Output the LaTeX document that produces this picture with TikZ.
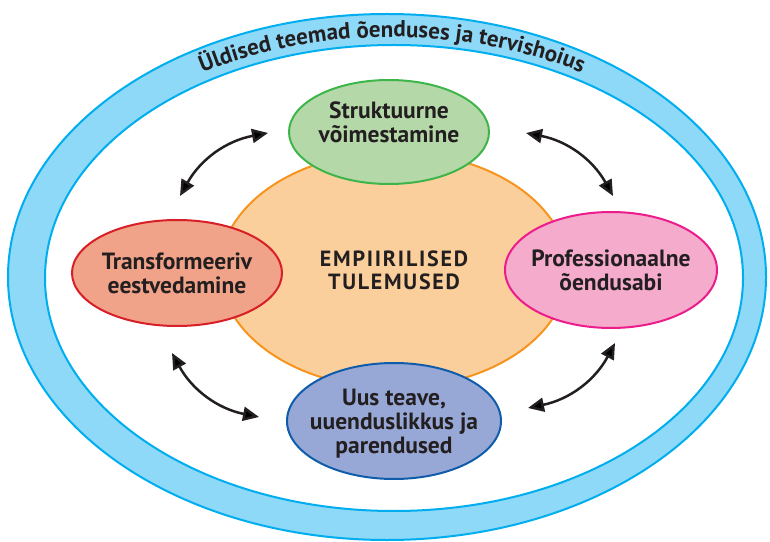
\documentclass[tikz,border=0pt]{standalone}
\usepackage{fontspec}
\setmainfont{PT Sans}
\usetikzlibrary{shapes.geometric,arrows.meta,decorations.text}

\definecolor{ink}{HTML}{231F20}
\definecolor{ringfill}{HTML}{8ED8F8}
\definecolor{ringline}{HTML}{00AEEF}
\definecolor{corefill}{HTML}{FBCF9C}
\definecolor{coreline}{HTML}{F7941E}
\definecolor{greenfill}{HTML}{B5D8A9}
\definecolor{greenline}{HTML}{3DB54A}
\definecolor{redfill}{HTML}{F0A388}
\definecolor{redline}{HTML}{D81E27}
\definecolor{pinkfill}{HTML}{F4ABCC}
\definecolor{pinkline}{HTML}{EC1C8C}
\definecolor{bluefill}{HTML}{97A8D6}
\definecolor{blueline}{HTML}{0F5CAB}

\begin{document}
\begin{tikzpicture}[x=1pt,y=1pt,
    blob/.style={ellipse, line width=2pt, inner sep=0pt},
    lbl/.style={align=center, text=ink, font=\bfseries\fontsize{23.5}{24}\selectfont},
    twoway/.style={{Triangle[length=16pt,width=14pt]}-{Triangle[length=16pt,width=14pt]},
        line width=2.5pt, draw=ink}]
    \useasboundingbox (0,0) rectangle (770,541);

    % outer ring
    \fill[ringfill, even odd rule] (387,264) ellipse (379 and 263) (394,263) ellipse (349 and 233);
    \draw[ringline, line width=2pt] (387,264) ellipse (379 and 263);
    \draw[ringline, line width=2pt] (394,263) ellipse (349 and 233);
    \path[decorate, decoration={text along path, text align=center, text color=ink,
        text={|\bfseries\fontsize{23}{24}\selectfont|Üldised teemad õenduses ja tervishoius}}]
        (392,264) ++(165:361 and 240) arc[start angle=165, end angle=15, x radius=361, y radius=240];

    % centre
    \node[blob, draw=coreline, fill=corefill, minimum width=348pt, minimum height=236pt,
        label={[lbl, font=\bfseries\fontsize{22}{23}\selectfont\addfontfeatures{LetterSpace=8}]center:EMPIIRILISED\\TULEMUSED}]
        (core) at (394,271) {};

    % the four around it
    \node[blob, draw=greenline, fill=greenfill, minimum width=200pt, minimum height=104pt,
        label={[lbl, yshift=10pt]center:Struktuurne\\võimestamine}] (green) at (389,409) {};
    \node[blob, draw=redline, fill=redfill, minimum width=210pt, minimum height=106pt,
        label={[lbl]center:Transformeeriv\\eestvedamine}] (red) at (177,268) {};
    \node[blob, draw=pinkline, fill=pinkfill, minimum width=212pt, minimum height=116pt,
        label={[lbl]center:Professionaalne\\õendusabi}] (pink) at (611,271) {};
    \node[blob, draw=blueline, fill=bluefill, minimum width=214pt, minimum height=116pt,
        label={[lbl, yshift=-3pt]center:{Uus teave,\\uuenduslikkus ja\\parendused}}] (blue) at (394,120) {};

    % arrows between them
    \draw[twoway] ([shift={(3pt,23pt)}]red.north) to[bend left=25] ([shift={(-20pt,-1pt)}]green.west);
    \draw[twoway] ([shift={(36pt,-1pt)}]green.east) to[bend left=25] ([shift={(2pt,15pt)}]pink.north);
    \draw[twoway] ([shift={(-5pt,-26pt)}]red.south) to[bend right=25] ([shift={(-27pt,4pt)}]blue.west);
    \draw[twoway] ([shift={(26pt,13pt)}]blue.east) to[bend right=25] ([shift={(4pt,-14pt)}]pink.south);

\end{tikzpicture}
\end{document}
